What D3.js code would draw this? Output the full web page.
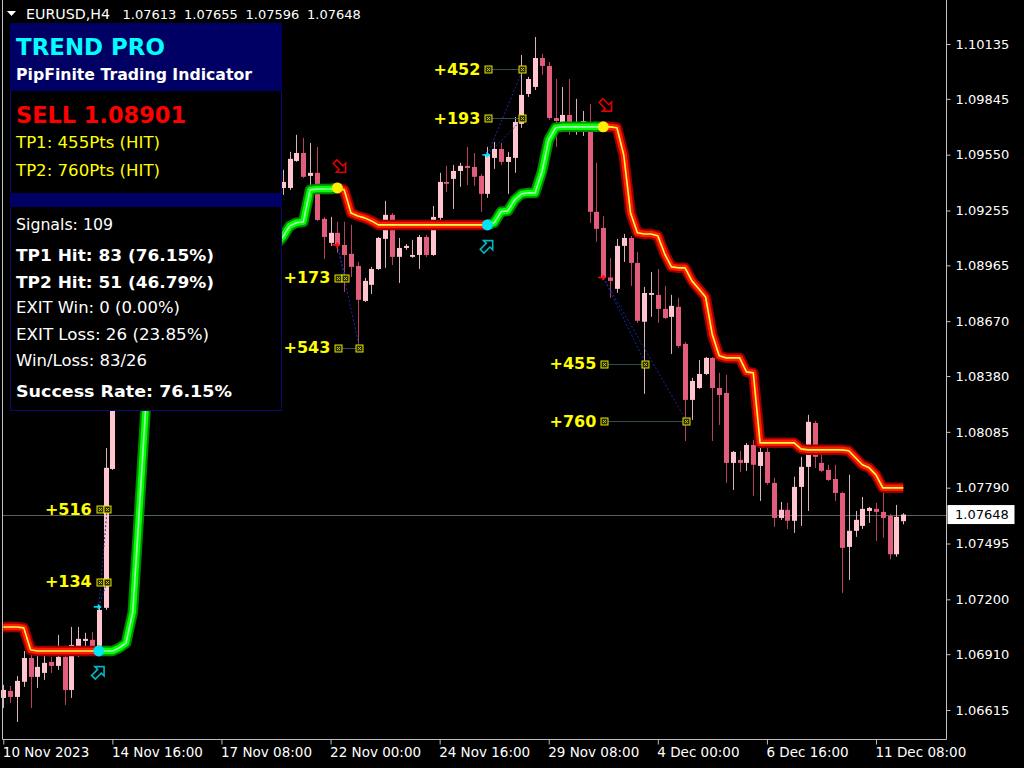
<!DOCTYPE html>
<html><head><meta charset="utf-8">
<script src="https://cdn.jsdelivr.net/npm/d3@7"></script>
<style>html,body{margin:0;padding:0;background:#000;overflow:hidden}svg{display:block}</style>
</head><body>
<svg id="chart" width="1024" height="768"></svg>
<script>
// ---------------- DATA ----------------
const opens = [1.06679,1.06716,1.06684,1.06764,1.06890,1.06790,1.06811,1.06869,1.06848,1.06896,1.06721,1.06949,1.06980,1.06986,1.06943,1.07155,1.07889,1.08254,1.08296,1.08360,1.08328,1.08412,1.08370,1.08280,1.08317,1.08307,1.08350,1.08296,1.08370,1.08402,1.08360,1.08423,1.08455,1.08624,1.08703,1.08782,1.08804,1.08862,1.08994,1.09100,1.09232,1.09374,1.09374,1.09517,1.09559,1.09438,1.09454,1.09211,1.09084,1.09137,1.09073,1.09026,1.08962,1.08777,1.08862,1.08946,1.09105,1.09232,1.09010,1.09057,1.09010,1.09020,1.09115,1.09020,1.09216,1.09406,1.09422,1.09464,1.09491,1.09485,1.09438,1.09343,1.09533,1.09580,1.09512,1.09533,1.09713,1.09871,1.09908,1.10061,1.10019,1.09744,1.09723,1.09760,1.09718,1.09718,1.09723,1.09248,1.09163,1.08901,1.08841,1.09068,1.09110,1.08978,1.08667,1.08809,1.08809,1.08735,1.08693,1.08746,1.08550,1.08254,1.08317,1.08391,1.08476,1.08317,1.08291,1.07921,1.07937,1.07921,1.08016,1.07905,1.07979,1.07815,1.07630,1.07673,1.07615,1.07794,1.07900,1.08132,1.07921,1.07884,1.07836,1.07762,1.07477,1.07562,1.07588,1.07667,1.07678,1.07662,1.07641,1.07438,1.07613];
const highs = [1.06748,1.06743,1.06795,1.06927,1.06906,1.06906,1.06906,1.06896,1.07012,1.06933,1.07054,1.07054,1.07023,1.07028,1.07165,1.08000,1.08296,1.08333,1.08402,1.08386,1.08455,1.08439,1.08402,1.08360,1.08350,1.08381,1.08370,1.08413,1.08439,1.08434,1.08466,1.08492,1.08666,1.08756,1.08825,1.08846,1.08915,1.09047,1.09163,1.09285,1.09417,1.09470,1.09565,1.09655,1.09639,1.09612,1.09591,1.09221,1.09221,1.09195,1.09195,1.09179,1.08983,1.08899,1.08957,1.09115,1.09306,1.09242,1.09110,1.09078,1.09100,1.09126,1.09126,1.09279,1.09454,1.09491,1.09496,1.09507,1.09591,1.09559,1.09448,1.09591,1.09618,1.09612,1.09565,1.09750,1.10077,1.09961,1.10172,1.10083,1.10040,1.09950,1.09908,1.09950,1.09845,1.09781,1.09818,1.09507,1.09226,1.09004,1.09105,1.09131,1.09121,1.09036,1.08851,1.08930,1.08946,1.08856,1.08809,1.08793,1.08560,1.08370,1.08465,1.08481,1.08481,1.08397,1.08386,1.07984,1.07984,1.08026,1.08042,1.08047,1.08047,1.07842,1.07715,1.07710,1.07848,1.07953,1.08175,1.08143,1.08005,1.07911,1.07911,1.07768,1.07858,1.07667,1.07741,1.07689,1.07710,1.07768,1.07651,1.07699,1.07655];
const lows = [1.06626,1.06653,1.06552,1.06737,1.06626,1.06732,1.06774,1.06811,1.06827,1.06642,1.06679,1.06896,1.06943,1.06933,1.06933,1.07144,1.07884,1.08233,1.08264,1.08280,1.08307,1.08296,1.08254,1.08243,1.08264,1.08275,1.08254,1.08264,1.08333,1.08317,1.08328,1.08386,1.08423,1.08582,1.08666,1.08751,1.08756,1.08825,1.08952,1.09057,1.09195,1.09337,1.09364,1.09512,1.09427,1.09258,1.09200,1.08999,1.09068,1.09031,1.08825,1.08904,1.08534,1.08772,1.08814,1.08941,1.08952,1.08967,1.08872,1.09047,1.09005,1.08946,1.09010,1.09015,1.09205,1.09353,1.09263,1.09380,1.09390,1.09385,1.09248,1.09322,1.09475,1.09496,1.09343,1.09454,1.09692,1.09855,1.09892,1.09972,1.09734,1.09591,1.09692,1.09655,1.09655,1.09649,1.09189,1.09089,1.08888,1.08793,1.08820,1.08983,1.08856,1.08661,1.08286,1.08693,1.08661,1.08682,1.08497,1.08529,1.08037,1.08148,1.08312,1.08386,1.08037,1.08122,1.07815,1.07778,1.07873,1.07879,1.07747,1.07720,1.07805,1.07583,1.07620,1.07572,1.07551,1.07588,1.07667,1.07894,1.07873,1.07826,1.07720,1.07234,1.07302,1.07530,1.07572,1.07604,1.07509,1.07525,1.07411,1.07425,1.07596];
const closes = [1.06721,1.06684,1.06769,1.06890,1.06790,1.06843,1.06864,1.06848,1.06896,1.06721,1.06959,1.06991,1.06991,1.06949,1.07144,1.07895,1.08254,1.08296,1.08360,1.08328,1.08412,1.08370,1.08280,1.08317,1.08307,1.08350,1.08296,1.08370,1.08402,1.08360,1.08423,1.08455,1.08624,1.08703,1.08782,1.08804,1.08862,1.08994,1.09100,1.09232,1.09374,1.09406,1.09528,1.09559,1.09433,1.09454,1.09205,1.09115,1.09137,1.09073,1.09020,1.08957,1.08783,1.08883,1.08946,1.09110,1.09232,1.09010,1.09057,1.09068,1.09020,1.09115,1.09020,1.09221,1.09406,1.09396,1.09464,1.09491,1.09480,1.09433,1.09343,1.09549,1.09580,1.09512,1.09538,1.09723,1.09866,1.09950,1.10061,1.10019,1.09744,1.09728,1.09760,1.09718,1.09723,1.09728,1.09248,1.09158,1.08901,1.08883,1.09068,1.09110,1.08978,1.08672,1.08819,1.08819,1.08735,1.08687,1.08751,1.08539,1.08254,1.08354,1.08391,1.08476,1.08317,1.08280,1.07921,1.07979,1.07921,1.08016,1.07911,1.07979,1.07815,1.07630,1.07673,1.07615,1.07794,1.07900,1.08138,1.07953,1.07879,1.07831,1.07762,1.07472,1.07562,1.07620,1.07678,1.07683,1.07662,1.07630,1.07438,1.07636,1.07648];
const trendLine = [1.07054,1.07054,1.07054,1.07049,1.06933,1.06927,1.06927,1.06927,1.06927,1.06927,1.06927,1.06927,1.06927,1.06927,1.06927,1.06927,1.06927,1.06943,1.06969,1.07134,1.07699,1.08281,1.08307,1.08317,1.08317,1.08317,1.08317,1.08317,1.08317,1.08333,1.08360,1.08360,1.08413,1.08571,1.08677,1.08756,1.08809,1.08888,1.08968,1.09036,1.09073,1.09115,1.09173,1.09190,1.09195,1.09364,1.09369,1.09369,1.09369,1.09374,1.09364,1.09242,1.09226,1.09216,1.09200,1.09179,1.09179,1.09179,1.09179,1.09179,1.09179,1.09179,1.09179,1.09179,1.09179,1.09179,1.09179,1.09179,1.09179,1.09179,1.09179,1.09179,1.09190,1.09248,1.09253,1.09311,1.09343,1.09348,1.09348,1.09459,1.09628,1.09692,1.09697,1.09697,1.09697,1.09697,1.09697,1.09697,1.09697,1.09697,1.09692,1.09549,1.09242,1.09137,1.09131,1.09131,1.09121,1.09026,1.08957,1.08952,1.08952,1.08883,1.08841,1.08798,1.08598,1.08487,1.08476,1.08476,1.08476,1.08402,1.08397,1.08027,1.08027,1.08027,1.08027,1.08027,1.08027,1.07995,1.07990,1.07990,1.07990,1.07990,1.07990,1.07990,1.07985,1.07948,1.07911,1.07895,1.07858,1.07789,1.07789,1.07789,1.07789];

const signalBars = [14, 49, 71, 88];
const signalTypes = ["buy", "sell", "buy", "sell"];
const entryPrices = [1.07160, 1.09073, 1.09549, 1.08901];
const tp1Points = [134, 173, 193, 455];
const tp2Points = [516, 543, 452, 760];
const tp1HitBars = [15, 50, 76, 94];
const tp2HitBars = [15, 52, 76, 100];

const priceTicks = [1.10135,1.09845,1.09550,1.09255,1.08965,1.08670,1.08380,1.08085,1.07790,1.07495,1.07200,1.06910,1.06615];
const timeTickBars = [0, 16, 32, 48, 64, 80, 96, 112, 128];
const timeLabels = ["10 Nov 2023","14 Nov 16:00","17 Nov 08:00","22 Nov 00:00","24 Nov 16:00","29 Nov 08:00","4 Dec 00:00","6 Dec 16:00","11 Dec 08:00"];

const symbolTitle = "EURUSD,H4";
const titleOHLC = ["1.07613","1.07655","1.07596","1.07648"];
const lastPrice = 1.07648;

const panelTitle = "TREND PRO";
const panelSub = "PipFinite Trading Indicator";
const panelSignal = "SELL 1.08901";
const panelTP = ["TP1: 455Pts (HIT)", "TP2: 760Pts (HIT)"];
const statLines = ["Signals: 109","TP1 Hit: 83 (76.15%)","TP2 Hit: 51 (46.79%)","EXIT Win: 0 (0.00%)","EXIT Loss: 26 (23.85%)","Win/Loss: 83/26","Success Rate: 76.15%"];
const statBold = [false,true,true,false,false,false,true];

// ---------------- LAYOUT ----------------
const svg = d3.select("#chart");
const W = 1024, H = 768;
const plotL = 2.5, plotR = 946.5, plotB = 739.5;
svg.append("rect").attr("width", W).attr("height", H).attr("fill", "#000");

const x = d3.scaleLinear().domain([0, 128]).range([3.3, 876]);
const y = d3.scaleLinear().domain([1.06615, 1.10135]).range([710, 44]);

const FONT = "'DejaVu Sans', Verdana, sans-serif";

// current price line (behind candles)
svg.append("line").attr("x1", plotL).attr("x2", plotR)
  .attr("y1", Math.round(y(lastPrice)) + 0.5).attr("y2", Math.round(y(lastPrice)) + 0.5)
  .attr("stroke", "#56606b").attr("stroke-width", 1);

// ---------------- CANDLES ----------------
const bars = d3.range(opens.length).map(i => ({i, o: opens[i], h: highs[i], l: lows[i], c: closes[i]}));
const cg = svg.append("g");
cg.selectAll("line.wick").data(bars).join("line")
  .attr("x1", d => Math.round(x(d.i)) + 0.5).attr("x2", d => Math.round(x(d.i)) + 0.5)
  .attr("y1", d => y(d.h)).attr("y2", d => y(d.l))
  .attr("stroke", d => d.c >= d.o ? "#d9b3ba" : "#b8405f").attr("stroke-width", 1);
cg.selectAll("rect.body").data(bars).join("rect")
  .attr("x", d => Math.round(x(d.i)) - 2).attr("width", 5)
  .attr("y", d => y(Math.max(d.o, d.c)))
  .attr("height", d => Math.max(1.5, Math.abs(y(d.o) - y(d.c))))
  .attr("fill", d => d.c >= d.o ? "#ffc6cf" : "#e25c7c");

// ---------------- TREND LINE ----------------
const segStarts = [0].concat(signalBars);
const segEnds = signalBars.concat([opens.length - 1]);
const segTypes = ["sell"].concat(signalTypes);
const lineGen = d3.line().x(i => x(i)).y(i => y(trendLine[i])).curve(d3.curveLinear);
const tg = svg.append("g");
const styles = {
  sell: [["#9a0000", 10.5], ["#ff1a00", 6.5], ["#ffff40", 1.6]],
  buy: [["#008a00", 10.5], ["#00ff00", 6.5], ["#9dffb0", 1.6]]
};
segStarts.forEach((s, k) => {
  const idx = d3.range(s, segEnds[k] + 1);
  styles[segTypes[k]].forEach(([col, w]) => {
    tg.append("path").attr("d", lineGen(idx)).attr("fill", "none")
      .attr("stroke", col).attr("stroke-width", w)
      .attr("stroke-linejoin", "round").attr("stroke-linecap", "butt");
  });
});

// ---------------- SIGNALS ----------------
const mg = svg.append("g");
const hollowArrow = "M0,-7.5 L6.5,-1 L2.6,-1 L2.6,7.5 L-2.6,7.5 L-2.6,-1 L-6.5,-1 Z";
signalBars.forEach((b, k) => {
  const isBuy = signalTypes[k] === "buy";
  const sx = x(b), ty = y(trendLine[b]), ey = y(entryPrices[k]);
  const tpPrices = [entryPrices[k] + (isBuy ? 1 : -1) * tp1Points[k] / 100000,
                    entryPrices[k] + (isBuy ? 1 : -1) * tp2Points[k] / 100000];
  const hits = [tp1HitBars[k], tp2HitBars[k]];
  const pts = [tp1Points[k], tp2Points[k]];
  tpPrices.forEach((tp, j) => {
    mg.append("line").attr("x1", sx).attr("y1", ey).attr("x2", x(hits[j]) + 1.5).attr("y2", y(tp))
      .attr("stroke", "#1a2aa8").attr("stroke-width", 1).attr("stroke-dasharray", "2,2");
  });
  tpPrices.forEach((tp, j) => {
    const ty2 = Math.round(y(tp)) + 0.5;
    const bx1 = Math.round(sx) + 1.5, bx2 = Math.round(x(hits[j])) + 1.5;
    mg.append("line").attr("x1", bx1).attr("x2", bx2).attr("y1", ty2).attr("y2", ty2)
      .attr("stroke", "#2f4f4f").attr("stroke-width", 1);
    [bx1, bx2].forEach(bx => {
      mg.append("rect").attr("x", bx - 3.5).attr("y", ty2 - 3.5).attr("width", 7).attr("height", 7)
        .attr("fill", "#2a2a00").attr("stroke", "#e6e600").attr("stroke-width", 1);
      mg.append("path").attr("d", `M${bx-1.5},${ty2-1.5}L${bx+1.5},${ty2+1.5}M${bx+1.5},${ty2-1.5}L${bx-1.5},${ty2+1.5}`)
        .attr("stroke", "#c8c800").attr("stroke-width", 1);
    });
    mg.append("text").attr("x", sx - 7).attr("y", y(tp)).attr("dy", "0.36em")
      .attr("text-anchor", "end").attr("font-family", FONT).attr("font-weight", "bold")
      .attr("font-size", 16).attr("fill", "#ffff00").text("+" + pts[j]);
  });
  const col = isBuy ? "#00e5ff" : "#ff1010";
  mg.append("path").attr("d", `M${sx-5},${ey}L${sx},${ey}`).attr("stroke", col).attr("stroke-width", 1.6);
  mg.append("path").attr("d", `M${sx-1},${ey-3.2}L${sx+3},${ey}L${sx-1},${ey+3.2}Z`).attr("fill", col);
  mg.append("circle").attr("cx", sx).attr("cy", ty).attr("r", 5.5)
    .attr("fill", isBuy ? "#00e5f5" : "#ffee00");
  if (isBuy) {
    mg.append("path").attr("d", hollowArrow)
      .attr("transform", `translate(${sx},${ty + 21}) rotate(45)`)
      .attr("fill", "none").attr("stroke", "#00b8c0").attr("stroke-width", 1.6);
  } else {
    mg.append("path").attr("d", hollowArrow)
      .attr("transform", `translate(${sx + 3},${ty - 21}) rotate(135)`)
      .attr("fill", "none").attr("stroke", "#e00000").attr("stroke-width", 1.6);
  }
});

// ---------------- FRAME & AXES ----------------
const fr = svg.append("g").attr("stroke", "#c0c0c0").attr("stroke-width", 1);
fr.append("line").attr("x1", plotL).attr("x2", plotL).attr("y1", 0).attr("y2", plotB);
fr.append("line").attr("x1", plotL).attr("x2", plotR).attr("y1", plotB).attr("y2", plotB);
fr.append("line").attr("x1", plotR).attr("x2", plotR).attr("y1", 0).attr("y2", plotB);

const yAxis = d3.axisRight(y).tickValues(priceTicks).tickFormat(d3.format(".5f")).tickSize(4).tickPadding(5);
const yg = svg.append("g").attr("transform", `translate(${plotR},0)`).call(yAxis);
yg.select(".domain").remove();
yg.selectAll(".tick line").attr("stroke", "#c0c0c0");
yg.selectAll(".tick text").attr("fill", "#fff").attr("font-family", FONT).attr("font-size", 13);

const xAxis = d3.axisBottom(x).tickValues(timeTickBars).tickFormat((d, i) => timeLabels[i]).tickSize(5).tickPadding(3);
const xg = svg.append("g").attr("transform", `translate(0,${plotB})`).call(xAxis);
xg.select(".domain").remove();
xg.selectAll(".tick line").attr("stroke", "#c0c0c0");
xg.selectAll(".tick text").attr("fill", "#fff").attr("font-family", FONT).attr("font-size", 13.5)
  .attr("text-anchor", "start").attr("x", -1);

// last price label
const lpY = y(lastPrice);
svg.append("rect").attr("x", plotR + 1).attr("y", lpY - 9.5).attr("width", 67).attr("height", 19).attr("fill", "#fff");
svg.append("text").attr("x", plotR + 8.5).attr("y", lpY).attr("dy", "0.36em")
  .attr("font-family", FONT).attr("font-size", 13).attr("fill", "#000").text(d3.format(".5f")(lastPrice));

// title
svg.append("path").attr("d", "M7,11 L16,11 L11.5,16 Z").attr("fill", "#fff");
svg.append("text").attr("x", 26).attr("y", 19).attr("font-family", FONT).attr("font-size", 13.5)
  .attr("fill", "#fff").attr("textLength", 84).attr("lengthAdjust", "spacingAndGlyphs").text(symbolTitle);
const ohlcX = [122.5, 184, 245.5, 307];
titleOHLC.forEach((t, k) => svg.append("text").attr("x", ohlcX[k]).attr("y", 19)
  .attr("font-family", FONT).attr("font-size", 13).attr("fill", "#fff").text(t));

// ---------------- INFO PANEL ----------------
const pg = svg.append("g");
pg.append("rect").attr("x", 10.5).attr("y", 23.5).attr("width", 271).attr("height", 387)
  .attr("fill", "#000").attr("stroke", "#0a0a6e").attr("stroke-width", 1);
pg.append("rect").attr("x", 10).attr("y", 23).attr("width", 272).attr("height", 68).attr("fill", "#000064");
pg.append("rect").attr("x", 10).attr("y", 193).attr("width", 272).attr("height", 14).attr("fill", "#000064");
function ptext(t, yy, size, bold, fill, len) {
  const el = pg.append("text").attr("x", 16).attr("y", yy).attr("font-family", FONT)
    .attr("font-size", size).attr("font-weight", bold ? "bold" : "normal").attr("fill", fill).text(t);
  if (len) el.attr("textLength", len).attr("lengthAdjust", "spacingAndGlyphs");
}
ptext(panelTitle, 55, 23, true, "#00ffff", 149);
ptext(panelSub, 80, 15.5, true, "#ffffff", 236);
ptext(panelSignal, 123, 22.5, true, "#ff0000", 170);
ptext(panelTP[0], 148, 16.5, false, "#ffff00", 144);
ptext(panelTP[1], 176, 16.5, false, "#ffff00", 144);
const statY = [230, 261, 288, 313, 340, 366, 397];
const statW = [97, 198, 198, 164, 193, 131, 216];
statLines.forEach((t, k) => ptext(t, statY[k], 16.3, statBold[k], "#ffffff", statW[k]));
</script>
</body></html>
